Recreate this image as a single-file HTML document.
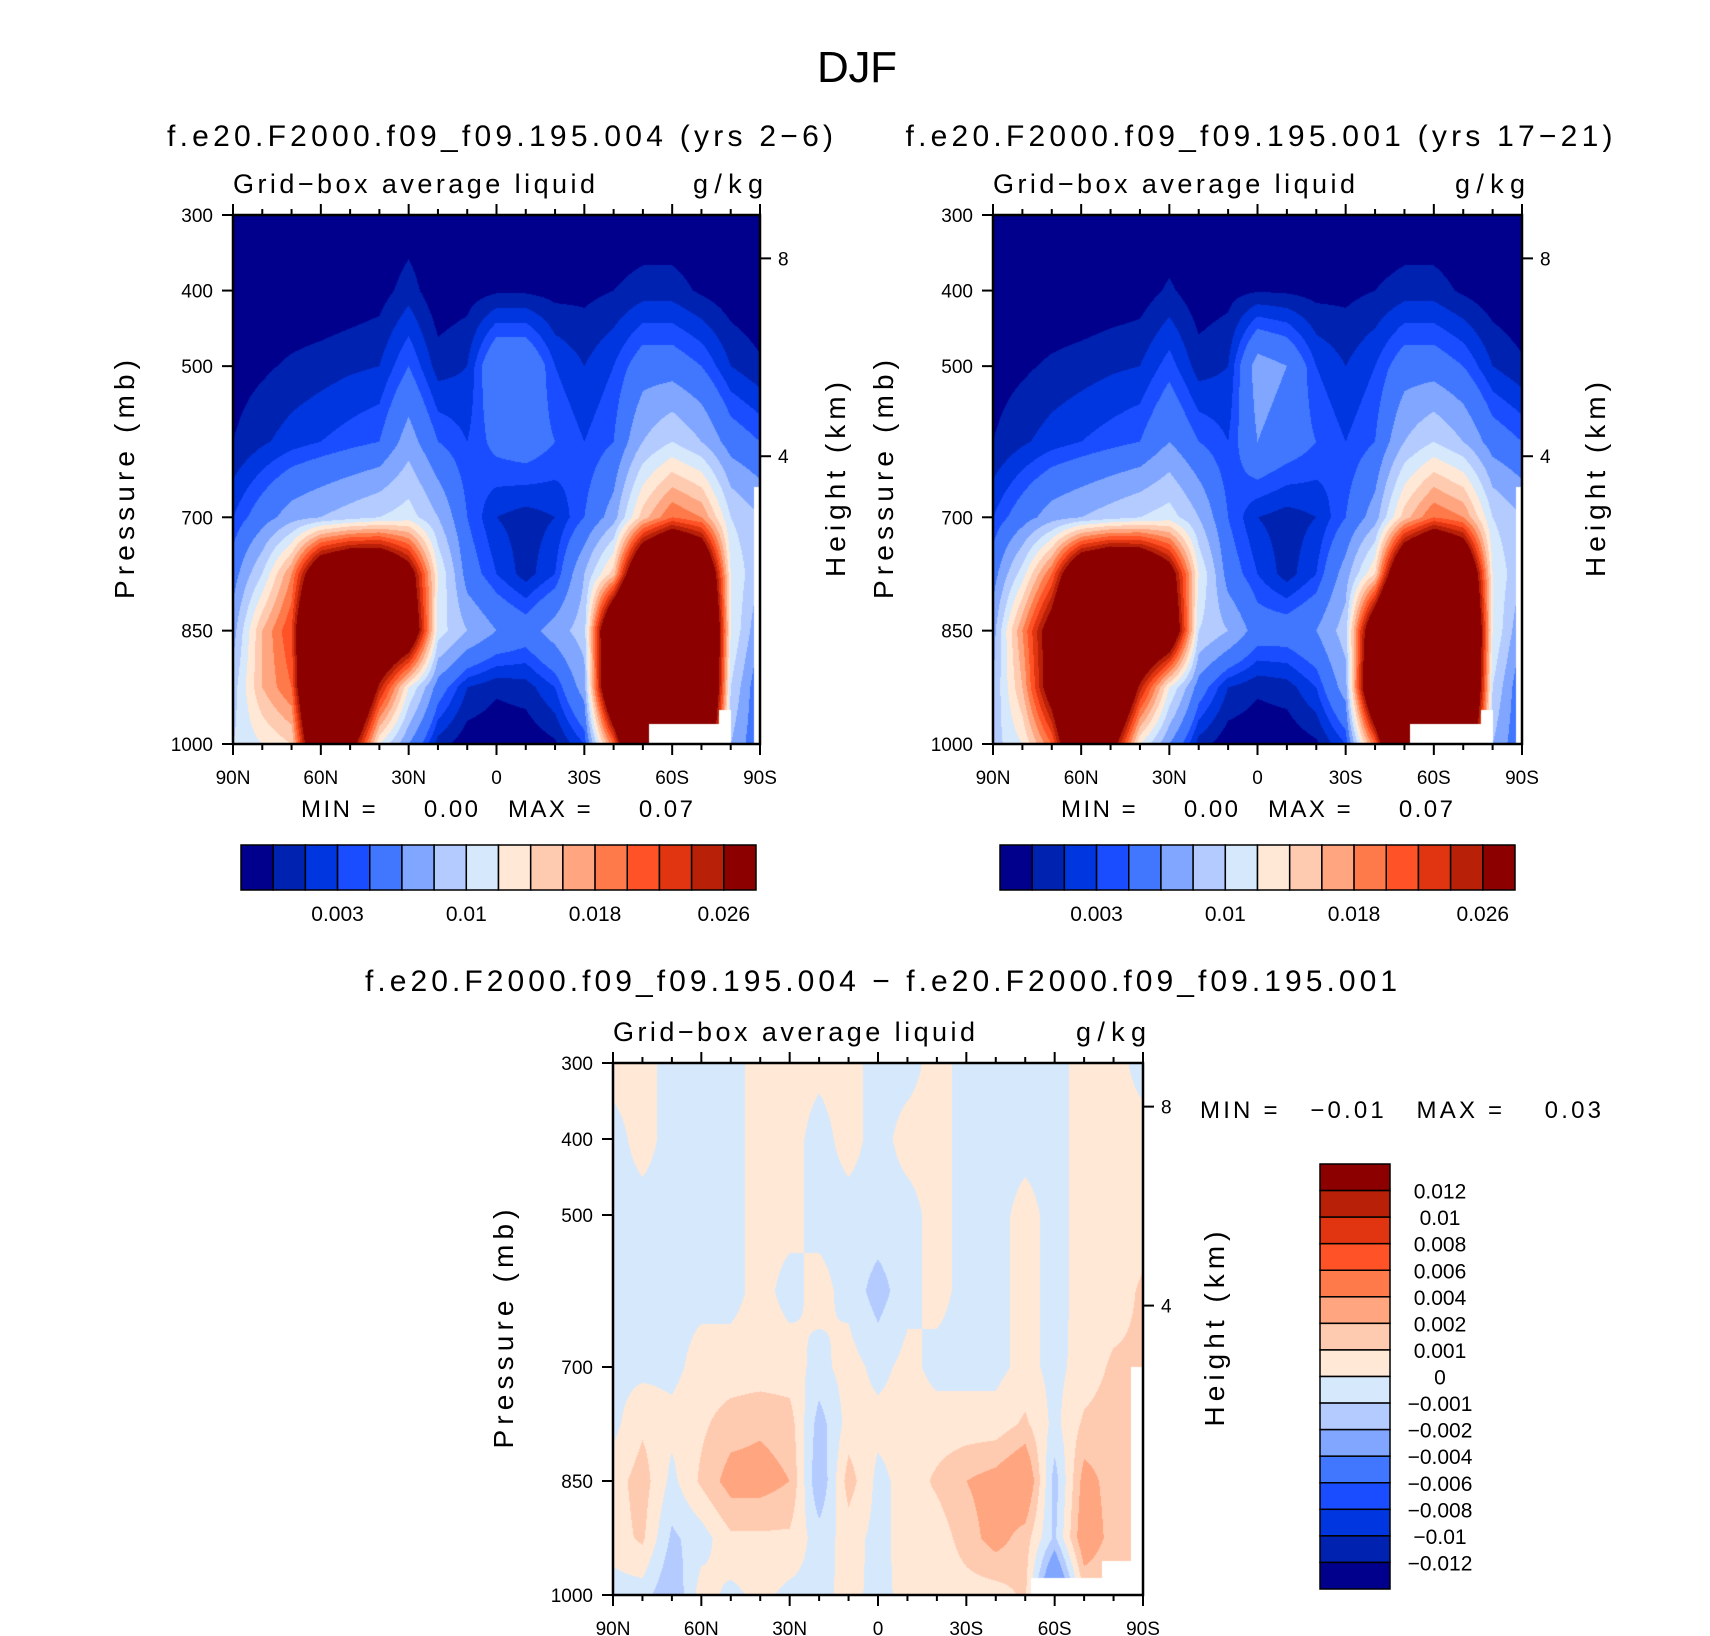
<!DOCTYPE html>
<html><head><meta charset="utf-8">
<style>
html,body{margin:0;padding:0;background:#fff;}
#wrap{position:relative;width:1710px;height:1636px;overflow:hidden;font-family:"Liberation Sans",sans-serif;}
canvas{position:absolute;}
svg{position:absolute;left:0;top:0;}
text{font-family:"Liberation Sans",sans-serif;fill:#000;white-space:pre;}
</style></head>
<body>
<div id="wrap">
<canvas id="cA"></canvas>
<canvas id="cB"></canvas>
<canvas id="cD"></canvas>
<svg id="svg" width="1710" height="1636"></svg>
</div>
<script>
// ---- data ----
const lats = [90,80,70,60,50,40,30,20,10,0,-10,-20,-30,-40,-50,-60,-70,-80,-90];
const plevs = [300,400,500,600,700,775,850,925,1000];
const latTicks = ["90N","60N","30N","0","30S","60S","90S"];
const presTicks = [300,400,500,700,850,1000];
const hgtTicks = ["8","4"];
const levelsAbs = [0.001,0.002,0.003,0.004,0.006,0.008,0.01,0.012,0.014,0.016,0.018,0.02,0.022,0.024,0.026];
const absBarLabels = ["0.003","0.01","0.018","0.026"];
const levelsDiff = [-0.012,-0.01,-0.008,-0.006,-0.004,-0.002,-0.001,0,0.001,0.002,0.004,0.006,0.008,0.01,0.012];
const diffBarLabels = ["0.012","0.01","0.008","0.006","0.004","0.002","0.001","0","\u22120.001","\u22120.002","\u22120.004","\u22120.006","\u22120.008","\u22120.01","\u22120.012"];
const fieldA = [
[0,0,0.0005,0.001,0.003,0.005,0.007,0.009,0.010],
[0,0,0.0008,0.0018,0.005,0.010,0.016,0.016,0.012],
[0,0,0.0012,0.0025,0.007,0.018,0.022,0.020,0.014],
[0,0,0.0015,0.003,0.008,0.035,0.05,0.05,0.04],
[0,0.0002,0.0018,0.0035,0.009,0.04,0.05,0.045,0.03],
[0,0.0005,0.002,0.004,0.010,0.04,0.04,0.025,0.012],
[0.0003,0.0015,0.004,0.007,0.011,0.03,0.035,0.012,0.006],
[0,0.0002,0.0015,0.004,0.008,0.012,0.011,0.005,0.0015],
[0,0.0005,0.002,0.003,0.004,0.005,0.008,0.002,0.0003],
[0,0.0008,0.006,0.0045,0.002,0.003,0.006,0.0012,0.0002],
[0,0.0008,0.006,0.005,0.0015,0.0015,0.005,0.0015,0.0002],
[0,0.0006,0.003,0.004,0.002,0.003,0.007,0.003,0.0008],
[0,0.0007,0.002,0.003,0.004,0.008,0.009,0.007,0.003],
[0,0.001,0.003,0.004,0.007,0.015,0.04,0.04,0.02],
[0,0.0015,0.005,0.008,0.015,0.04,0.06,0.06,0.05],
[0,0.0015,0.005,0.010,0.020,0.05,0.06,0.06,0.05],
[0,0.0008,0.004,0.008,0.018,0.04,0.05,0.05,0.04],
[0,0.0003,0.002,0.005,0.010,0.012,0.012,0.010,0.008],
[0,0,0.0012,0.004,0.008,0.008,0.006,0.004,0.004]];
const fieldB = [
[0,0,0.0005,0.001,0.003,0.005,0.007,0.008,0.009],
[0,0,0.0008,0.0018,0.005,0.011,0.018,0.016,0.012],
[0,0,0.0012,0.0025,0.007,0.02,0.03,0.03,0.02],
[0,0,0.0015,0.003,0.008,0.037,0.05,0.05,0.04],
[0,0.0002,0.0018,0.0035,0.009,0.042,0.05,0.045,0.03],
[0,0.0004,0.002,0.004,0.010,0.04,0.04,0.025,0.012],
[0,0.0012,0.0035,0.006,0.011,0.03,0.035,0.012,0.006],
[0,0.0003,0.0015,0.004,0.008,0.012,0.010,0.005,0.0015],
[0,0.0006,0.002,0.003,0.004,0.005,0.008,0.002,0.0003],
[0,0.0009,0.007,0.006,0.002,0.003,0.005,0.0012,0.0002],
[0,0.0008,0.006,0.005,0.0015,0.0015,0.005,0.0015,0.0002],
[0,0.0006,0.003,0.004,0.002,0.003,0.006,0.003,0.0008],
[0,0.0007,0.002,0.003,0.004,0.007,0.009,0.007,0.003],
[0,0.001,0.003,0.004,0.007,0.014,0.035,0.04,0.02],
[0,0.0015,0.005,0.008,0.015,0.04,0.06,0.06,0.05],
[0,0.0015,0.005,0.010,0.020,0.05,0.06,0.06,0.05],
[0,0.0008,0.004,0.008,0.018,0.04,0.05,0.05,0.04],
[0,0.0003,0.002,0.005,0.010,0.012,0.012,0.010,0.008],
[0,0,0.0012,0.004,0.008,0.008,0.006,0.004,0.004]];
const fieldD = [
[0.0003,-0.0003,-0.0003,-0.0003,-0.0003,-0.0003,0.0005,0.0005,-0.0005],
[0.0003,0.0003,-0.0003,-0.0003,-0.0003,0.0008,0.0015,0.0012,-0.0005],
[-0.0003,-0.0003,-0.0003,-0.0003,-0.0003,0.0003,-0.0003,-0.0012,-0.002],
[-0.0003,-0.0003,-0.0003,-0.0003,0.0004,0.0008,0.0012,-0.0005,0.0005],
[-0.0003,-0.0003,-0.0003,-0.0003,0.0004,0.0015,0.0025,0.0008,-0.0003],
[0.0003,0.0003,0.0003,0.0003,0.0004,0.0018,0.0025,0.0008,0.0003],
[0.0003,0.0003,0.0003,-0.0003,0.0004,0.0015,0.002,0.0008,-0.0003],
[0.0002,-0.0003,-0.0003,0.0003,-0.0003,-0.0015,-0.002,-0.0005,-0.0003],
[0.0003,0.0003,-0.0003,-0.0003,0.0004,0.0004,0.0015,0.0004,0.0003],
[-0.0003,-0.0003,-0.0003,-0.0015,-0.0003,0.0003,-0.0003,-0.0003,-0.0003],
[-0.0003,0.0003,-0.0003,-0.0003,0.0003,0.0004,0.0004,0.0004,0.0003],
[0.0003,0.0003,0.0003,0.0003,-0.0003,0.0004,0.0012,0.0004,0.0003],
[-0.0003,-0.0003,-0.0003,-0.0003,-0.0003,0.0004,0.002,0.0015,0.0005],
[-0.0003,-0.0003,-0.0003,-0.0003,-0.0003,0.0004,0.0025,0.0025,0.0005],
[-0.0003,-0.0003,0.0003,0.0003,0.0003,0.0012,0.0035,0.0015,0.0012],
[-0.0003,-0.0003,-0.0003,-0.0003,-0.0003,-0.0003,-0.0015,-0.0012,-0.005],
[0.0003,0.0003,0.0003,0.0003,0.0004,0.0012,0.0025,0.003,0.001],
[0.0003,0.0003,0.0003,0.0004,0.0012,0.0015,0.0015,0.0015,0.001],
[-0.0003,0.0003,0.0004,0.0012,0.0012,0.0012,0.001,0.001,0.001]];

const colors = ['#00008c','#0022b0','#0036e0','#1a4dff','#4177ff','#80a6ff','#b4cbff','#d6e8fc','#ffe8d6','#ffcbb0','#ffa680','#ff7a4a','#ff5226','#e03510','#b82008','#8c0000'];

// ---- geometry ----
const PA = {x:233,y:215,w:527,h:529};
const PB = {x:993,y:215,w:529,h:529};
const PD = {x:613,y:1063,w:530,h:532};
const xOfLat = (P,lat)=>P.x+(90-lat)/180*P.w;
const yOfP = (P,p)=>P.y+(p-300)/700*P.h;

function hex(c){return [parseInt(c.substr(1,2),16),parseInt(c.substr(3,2),16),parseInt(c.substr(5,2),16)];}
const rgb = colors.map(hex);

function sample(field,lat,p){
  let fi=(90-lat)/10; let i0=Math.min(Math.floor(fi),lats.length-2); let tx=fi-i0;
  let j0=0; while(j0<plevs.length-2 && p>plevs[j0+1]) j0++;
  let ty=(p-plevs[j0])/(plevs[j0+1]-plevs[j0]);
  ty=Math.max(0,Math.min(1,ty));
  const a=field[i0][j0],b=field[i0+1][j0],c=field[i0][j0+1],d=field[i0+1][j0+1];
  return (a*(1-tx)+b*tx)*(1-ty)+(c*(1-tx)+d*tx)*ty;
}
function renderField(id,P,field,levels,masks){
  const cv=document.getElementById(id);
  cv.width=P.w;cv.height=P.h;cv.style.left=P.x+'px';cv.style.top=P.y+'px';
  const ctx=cv.getContext('2d');const img=ctx.createImageData(P.w,P.h);
  for(let py=0;py<P.h;py++){const p=300+700*(py+0.5)/P.h;
    for(let px=0;px<P.w;px++){const lat=90-180*(px+0.5)/P.w;
      let v=sample(field,lat,p);
      let k=0; while(k<levels.length && v>=levels[k]) k++;
      let col=rgb[k];
      for(const m of masks){ if(lat<=m[0]&&lat>=m[1]&&p>=m[2]) col=[255,255,255]; }
      const o=(py*P.w+px)*4; img.data[o]=col[0];img.data[o+1]=col[1];img.data[o+2]=col[2];img.data[o+3]=255;}}
  ctx.putImageData(img,0,0);
}
const masksTop=[[-52,-76,974],[-76,-80,955],[-88,-90,660]];
renderField('cA',PA,fieldA,levelsAbs,masksTop);
renderField('cB',PB,fieldB,levelsAbs,masksTop);
renderField('cD',PD,fieldD,levelsDiff,[[-52,-76,978],[-76,-86,955],[-86,-90,700]]);

// ---- svg ----
const svg=document.getElementById('svg');const NS='http://www.w3.org/2000/svg';
function mk(tag,attrs){const e=document.createElementNS(NS,tag);for(const k in attrs)e.setAttribute(k,attrs[k]);svg.appendChild(e);return e;}
function txt(s,x,y,size,anchor,name,rot,len){const e=mk('text',{x:x,y:y,'font-size':size,'text-anchor':anchor||'start'});
  if(rot)e.setAttribute('transform','rotate(-90 '+x+' '+y+')');
  if(len){e.setAttribute('textLength',len);e.setAttribute('lengthAdjust','spacing');}
  e.textContent=s;
  
  
  return e;}

txt('DJF',857,82,44,'middle','figure-title',false,80);

function axes(P,tag,title,tx,tlen,hgtX,pressTitleX,minmax,mmx,mmy){
  if(title){txt(title,tx,146,30,'middle',tag+'-title',false,tlen);}
  txt('Grid\u2212box average liquid',P.x,P.y-22,27,'start',tag+'-long-name',false,362);
  txt('g/kg',P.x+P.w+3,P.y-22,27,'end',tag+'-units',false,70);
  const fr=mk('rect',{x:P.x,y:P.y,width:P.w,height:P.h,fill:'none',stroke:'#000','stroke-width':2.5});
  
  
  for(let l=90;l>=-90;l-=10){const x=xOfLat(P,l);const major=(l%30===0);const L=major?11:6;
    const t1=mk('line',{x1:x,y1:P.y,x2:x,y2:P.y-L,stroke:'#000','stroke-width':2});
    
    
    const t2=mk('line',{x1:x,y1:P.y+P.h,x2:x,y2:P.y+P.h+L,stroke:'#000','stroke-width':2});
    
    }
  latTicks.forEach((s,i)=>{const l=90-30*i;txt(s,xOfLat(P,l),P.y+P.h+40,19,'middle',tag+'-x-tick-label');});
  presTicks.forEach(p=>{const y=yOfP(P,p);
    const t=mk('line',{x1:P.x,y1:y,x2:P.x-11,y2:y,stroke:'#000','stroke-width':2});
    
    
    txt(String(p),P.x-20,y+7,19,'end',tag+'-y-tick-label');});
  const hf=[0.082,0.456];
  hgtTicks.forEach((s,i)=>{const y=P.y+hf[i]*P.h;
    const t=mk('line',{x1:P.x+P.w,y1:y,x2:P.x+P.w+11,y2:y,stroke:'#000','stroke-width':2});
    
    
    txt(s,P.x+P.w+18,y+7,19,'start',tag+'-height-tick-label');});
  txt('Pressure (mb)',pressTitleX,P.y+P.h/2,28,'middle',tag+'-y-axis-title',true,239);
  txt('Height (km)',hgtX,P.y+P.h/2,28,'middle',tag+'-height-axis-title',true,195);
  txt(minmax,mmx,mmy,24,'start',tag+'-min-max',false,mmx>1150?401:392);
}
axes(PA,'left-panel','f.e20.F2000.f09_f09.195.004 (yrs 2\u22126)',500,666,845,134,'MIN =     0.00   MAX =     0.07',301,817);
axes(PB,'right-panel','f.e20.F2000.f09_f09.195.001 (yrs 17\u221221)',1259,707,1605,893,'MIN =     0.00   MAX =     0.07',1061,817);
txt('f.e20.F2000.f09_f09.195.004 \u2212 f.e20.F2000.f09_f09.195.001',881,991,30,'middle','difference-title',false,1032);
axes(PD,'diff-panel',null,0,0,1224,513,'MIN =   \u22120.01   MAX =    0.03',1200,1118);

// horizontal colorbars
function hbar(x0,tag){const w=515/16;
  for(let i=0;i<16;i++){const r=mk('rect',{x:x0+i*w,y:845,width:w,height:45,fill:colors[i],stroke:'#000','stroke-width':1.5});
    
    }
  [3,7,11,15].forEach((b,i)=>{txt(absBarLabels[i],x0+b*w,921,21,'middle',tag+'-label');});}
hbar(241,'left-colorbar');
hbar(1000,'right-colorbar');
// vertical colorbar
(function(){const x0=1320,y0=1164,h=425/16;
  for(let i=0;i<16;i++){const r=mk('rect',{x:x0,y:y0+i*h,width:70,height:h,fill:colors[15-i],stroke:'#000','stroke-width':1.5});
    
    }
  diffBarLabels.forEach((s,i)=>{txt(s,1440,y0+(i+1)*h+8,21,'middle','diff-colorbar-label');});
})();
</script>
</body></html>
